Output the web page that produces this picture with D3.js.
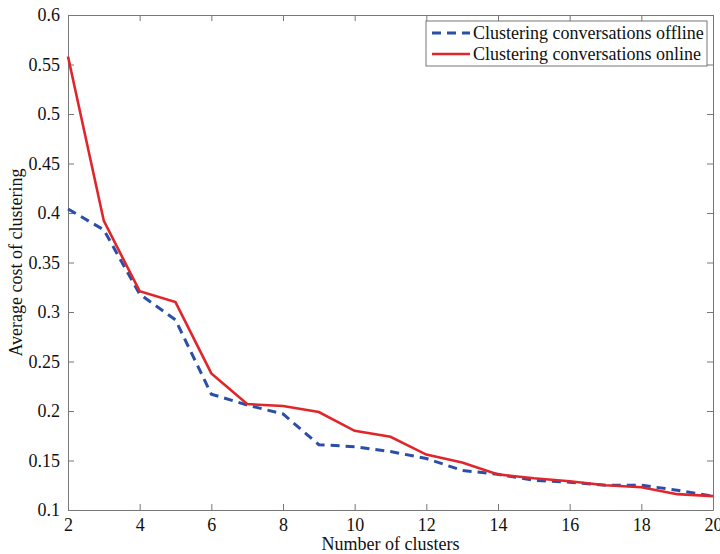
<!DOCTYPE html>
<html lang="en">
<head>
  <meta charset="UTF-8">
  <title>Average cost of clustering</title>
  <script src="https://d3js.org/d3.v7.min.js"></script>
  <style>
  body{ margin:0; background:#fff; }
  text{ font-family:"Liberation Serif","Times New Roman",serif; fill:#111; }
  .axis path,.axis line{ stroke:#777; stroke-width:1; }
  </style>
</head>
<body>
  <div class="container"></div>
  <script>
  var clusters = [2,3,4,5,6,7,8,9,10,11,12,13,14,15,16,17,18,19,20];
  var offline = [0.404,0.383,0.318,0.292,0.217,0.206,0.197,0.166,0.164,0.159,0.152,0.140,0.136,0.130,0.128,0.125,0.125,0.120,0.114];
  var online  = [0.558,0.392,0.321,0.310,0.238,0.207,0.205,0.199,0.180,0.174,0.156,0.148,0.136,0.132,0.129,0.125,0.123,0.116,0.114];
  var xTicks = [2,4,6,8,10,12,14,16,18,20];
  var yTicks = [0.1,0.15,0.2,0.25,0.3,0.35,0.4,0.45,0.5,0.55,0.6];
  var seriesNames = ['Clustering conversations offline','Clustering conversations online'];

  var w = 720, h = 554,
      margin = {top: 15, right: 7, bottom: 44, left: 68};
  var g_w = w - margin.left - margin.right;
  var g_h = h - margin.top - margin.bottom;

  var xScale = d3.scaleLinear().domain([2, 20]).range([0, g_w]);
  var yScale = d3.scaleLinear().domain([0.1, 0.6]).range([g_h, 0]);

  var svg = d3.select('.container').append('svg')
      .attr('width', w).attr('height', h);
  var g = svg.append('g')
      .attr('transform','translate('+margin.left+','+margin.top+')');

  var fmt = function(d){ return String(+d.toFixed(2)); };

  // axes: closed box, ticks pointing inward
  g.append('g').attr('class','axis')
      .attr('transform','translate(0,'+g_h+')')
      .call(d3.axisBottom(xScale).tickValues(xTicks).tickSizeInner(-6).tickSizeOuter(0).tickPadding(8))
      .selectAll('text').style('font-size','18px');
  g.append('g').attr('class','axis')
      .call(d3.axisTop(xScale).tickValues(xTicks).tickSizeInner(-6).tickSizeOuter(0).tickFormat(''));
  g.append('g').attr('class','axis')
      .call(d3.axisLeft(yScale).tickValues(yTicks).tickFormat(fmt).tickSizeInner(-6).tickSizeOuter(0).tickPadding(8))
      .selectAll('text').style('font-size','18px');
  g.append('g').attr('class','axis')
      .attr('transform','translate('+g_w+',0)')
      .call(d3.axisRight(yScale).tickValues(yTicks).tickSizeInner(-6).tickSizeOuter(0).tickFormat(''));

  var line = d3.line()
      .x(function(d,i){ return xScale(clusters[i]); })
      .y(function(d){ return yScale(d); });

  g.append('path').attr('d', line(offline))
      .attr('fill','none').attr('stroke','#2b4fa8')
      .attr('stroke-width',3).attr('stroke-dasharray','9,6');
  g.append('path').attr('d', line(online))
      .attr('fill','none').attr('stroke','#e0262b')
      .attr('stroke-width',2.6);

  svg.append('text')
      .attr('x', margin.left + g_w/2).attr('y', 550)
      .attr('text-anchor','middle').style('font-size','18px')
      .text('Number of clusters');
  svg.append('text')
      .attr('transform','translate(22,'+(margin.top + g_h/2)+') rotate(-90)')
      .attr('text-anchor','middle').style('font-size','18px')
      .text('Average cost of clustering');

  // legend
  var lg = svg.append('g').attr('transform','translate(426,21)');
  lg.append('rect').attr('width',281).attr('height',45)
      .attr('fill','#fff').attr('stroke','#777').attr('stroke-width',1);
  var styles = [{c:'#2b4fa8', dash:'9,6'}, {c:'#e0262b', dash:null}];
  seriesNames.forEach(function(name,i){
    var yy = 12 + i*21;
    lg.append('line').attr('x1',6).attr('x2',44).attr('y1',yy).attr('y2',yy)
      .attr('stroke',styles[i].c).attr('stroke-width',i ? 2.6 : 3)
      .attr('stroke-dasharray',styles[i].dash);
    lg.append('text').attr('x',47).attr('y',yy+6)
      .style('font-size','18px').text(name);
  });
  </script>
</body>
</html>
